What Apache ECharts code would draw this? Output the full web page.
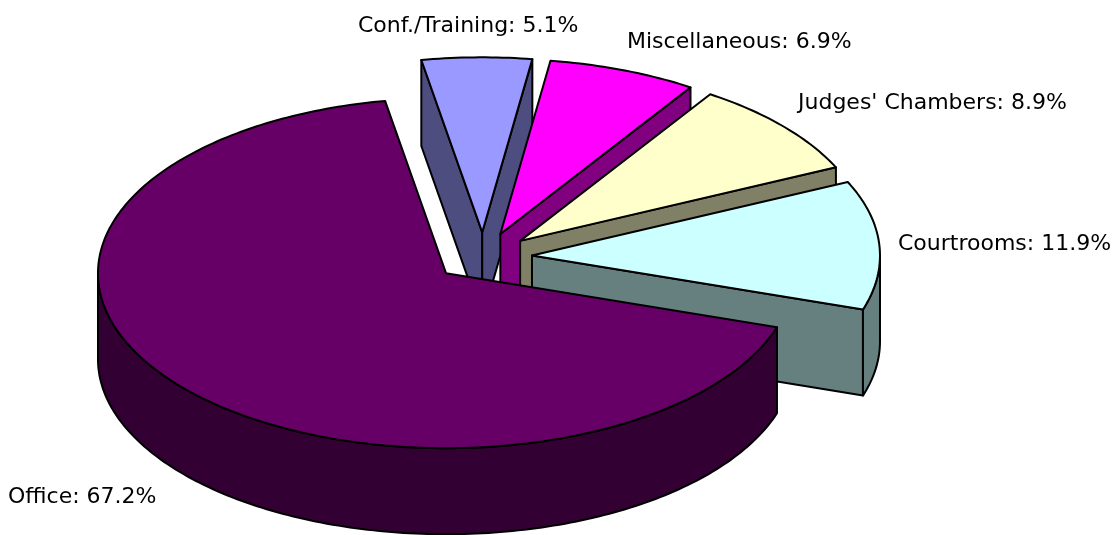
<!DOCTYPE html>
<html>
<head>
<meta charset="utf-8">
<script src="https://cdn.jsdelivr.net/npm/echarts@6/dist/echarts.min.js"></script>
<style>
  html, body { margin: 0; padding: 0; background: #ffffff; }
  #chart { width: 1120px; height: 535px; }
</style>
</head>
<body>
<div id="chart"></div>
<script>
// Space breakdown by category, percent of total
const categories = ['Office', 'Conf./Training', 'Miscellaneous', "Judges' Chambers", 'Courtrooms'];
const shares = [67.2, 5.1, 6.9, 8.9, 11.9];

// Face colours (top face / darker side walls)
const topColors = ['#660066', '#9999FF', '#FF00FF', '#FFFFCC', '#CCFFFF'];
const sideColors = ['#330033', '#4D4D80', '#800080', '#808066', '#668080'];

// Label placement: [x, y, horizontal align]
const labelLayout = [
  [8, 497, 'left'],
  [358, 26, 'left'],
  [627, 42, 'left'],
  [798, 103, 'left'],
  [898, 244, 'left']
];

// 3D pie geometry
const START_DEG = 108;     // first slice starts here, clockwise from 12 o'clock
const CENTER = [483, 257];
const RX = 348, RY = 175;  // ellipse radii of the tilted disc
const DEPTH = 86;          // disc thickness
const EXPLODE = 0.141;     // slice offset as a fraction of the radius
const FONT = '"DejaVu Sans", sans-serif';

const total = shares.reduce((a, b) => a + b, 0);
const rad = d => d * Math.PI / 180;

function onEllipse(cx, cy, deg, dy) {
  const a = rad(deg);
  return [cx + RX * Math.sin(a), cy - RY * Math.cos(a) + (dy || 0)];
}
function arc(cx, cy, d0, d1, dy) {
  const pts = [];
  const n = Math.max(2, Math.ceil(Math.abs(d1 - d0)));
  for (let k = 0; k <= n; k++) pts.push(onEllipse(cx, cy, d0 + (d1 - d0) * k / n, dy));
  return pts;
}

function renderItem(params, api) {
  const i = params.dataIndex;
  let a0 = START_DEG;
  for (let j = 0; j < i; j++) a0 += shares[j] / total * 360;
  const a1 = a0 + api.value(0) / total * 360;
  const mid = (a0 + a1) / 2;
  const ox = CENTER[0] + EXPLODE * RX * Math.sin(rad(mid));
  const oy = CENTER[1] - EXPLODE * RY * Math.cos(rad(mid));
  const base = Math.round(oy * 10);
  const stroke = { stroke: '#000', lineWidth: 2, lineJoin: 'round' };
  const children = [];

  const radialWall = (deg) => {
    const p = onEllipse(ox, oy, deg);
    return {
      type: 'polygon', z2: base,
      shape: { points: [[ox, oy], p, [p[0], p[1] + DEPTH], [ox, oy + DEPTH]] },
      style: Object.assign({ fill: sideColors[i] }, stroke)
    };
  };
  // radial walls that face the viewer
  if (Math.sin(rad(a0)) < 0) children.push(radialWall(a0));
  if (Math.sin(rad(a1)) > 0) children.push(radialWall(a1));

  // front part of the curved outer wall
  [[90, 270], [450, 630]].forEach(([v0, v1]) => {
    const s = Math.max(a0, v0), e = Math.min(a1, v1);
    if (e > s) {
      const topArc = arc(ox, oy, s, e, 0);
      const botArc = arc(ox, oy, s, e, DEPTH).reverse();
      children.push({
        type: 'polygon', z2: base + 1,
        shape: { points: topArc.concat(botArc) },
        style: Object.assign({ fill: sideColors[i] }, stroke)
      });
    }
  });

  // top face
  children.push({
    type: 'polygon', z2: base + 2,
    shape: { points: [[ox, oy]].concat(arc(ox, oy, a0, a1, 0)) },
    style: Object.assign({ fill: topColors[i] }, stroke)
  });

  // label
  const lay = labelLayout[i];
  children.push({
    type: 'text', z2: 100000,
    style: {
      x: lay[0], y: lay[1],
      text: categories[i] + ': ' + api.value(0).toFixed(1) + '%',
      fill: '#000', font: '22px ' + FONT,
      align: lay[2], verticalAlign: 'middle'
    }
  });

  return { type: 'group', children };
}

const chart = echarts.init(document.getElementById('chart'), null, { renderer: 'canvas' });
chart.setOption({
  backgroundColor: '#ffffff',
  animation: false,
  series: [{
    type: 'custom',
    coordinateSystem: 'none',
    renderItem: renderItem,
    data: shares.map((v, i) => ({ name: categories[i], value: [v] }))
  }]
});
</script>
</body>
</html>
